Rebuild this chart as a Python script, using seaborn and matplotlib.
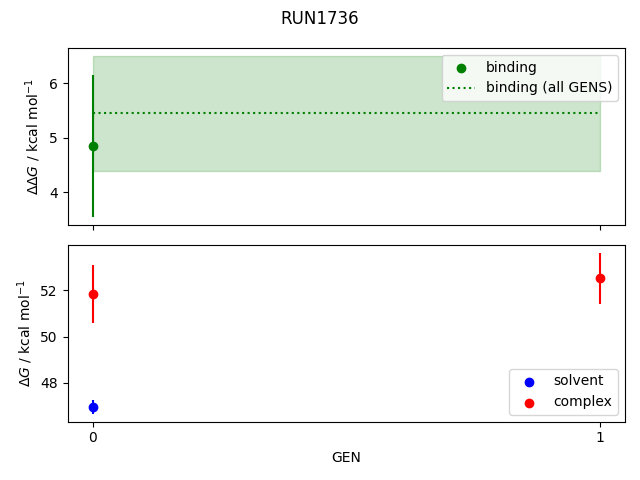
import matplotlib
matplotlib.use("Agg")
import matplotlib.pyplot as plt
import seaborn as sns
import numpy as np
import pandas as pd

gens = [0, 1]
binding_gen = [0]
binding_val = [4.85]
binding_err = [1.3]
binding_all = 5.45
binding_all_err = 1.05

solvent_gen = [0]
solvent_val = [46.98]
solvent_err = [0.3]

complex_gen = [0, 1]
complex_val = [51.83, 52.5]
complex_err = [1.23, 1.1]

fig, (ax1, ax2) = plt.subplots(2, 1, sharex=True, figsize=(6.4, 4.8), dpi=100)

mk = dict(s=36, linewidth=1.0)

# top
sns.scatterplot(x=binding_gen, y=binding_val, color="green", edgecolor="green",
                label="binding", ax=ax1, **mk)
ax1.errorbar(binding_gen, binding_val, yerr=binding_err, color="green", fmt="none")
ax1.plot(gens, [binding_all] * len(gens), color="green", linestyle=":",
         label="binding (all GENS)")
ax1.fill_between(gens, binding_all - binding_all_err, binding_all + binding_all_err,
                 color="green", alpha=0.2, linewidth=1)
ax1.set_ylabel(r"$\Delta\Delta G$ / kcal mol$^{-1}$")
ax1.legend(loc="upper right")

# bottom
sns.scatterplot(x=solvent_gen, y=solvent_val, color="blue", edgecolor="blue",
                label="solvent", ax=ax2, **mk)
ax2.errorbar(solvent_gen, solvent_val, yerr=solvent_err, color="blue", fmt="none")
sns.scatterplot(x=complex_gen, y=complex_val, color="red", edgecolor="red",
                label="complex", ax=ax2, **mk)
ax2.errorbar(complex_gen, complex_val, yerr=complex_err, color="red", fmt="none")
ax2.set_ylabel(r"$\Delta G$ / kcal mol$^{-1}$")
ax2.set_xlabel("GEN")
ax2.set_xticks(gens)
ax2.legend(loc="lower right")

fig.suptitle("RUN1736")
fig.tight_layout()
fig.savefig("out.png", dpi=100)
